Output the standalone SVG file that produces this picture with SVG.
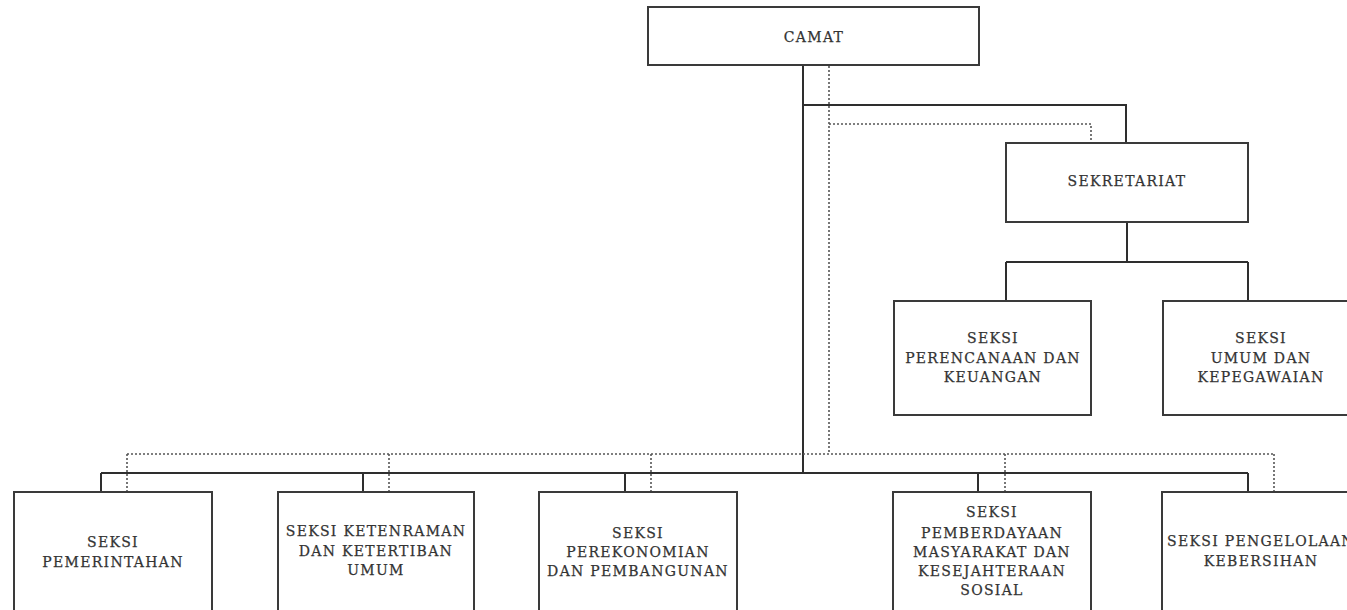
<svg xmlns="http://www.w3.org/2000/svg" width="1347" height="610" viewBox="0 0 1347 610">
<style>
.box{fill:#fff;stroke:#3a3a3a;stroke-width:2}
.ln{fill:none;stroke:#2e2e2e;stroke-width:2}
.dt{fill:none;stroke:#555;stroke-width:1.6;stroke-dasharray:2 2}
text{font-family:"DejaVu Serif","Liberation Serif",serif;font-size:14px;fill:#333;stroke:#333;stroke-width:0.25;text-anchor:middle;letter-spacing:1.3px}
</style>
<rect width="1347" height="610" fill="#fff"/>
<g id="connectors">
<path class="ln" d="M803 66V473M803 105H1126V143M1127 222V262M1006 262H1248M1006 262V301M1248 262V301M101 473H1248M101 473V492M363 473V492M625 473V492M978 473V492M1248 473V492"/>
<path class="dt" d="M829 66V454M829 124H1091V143M127 454H1274M127 454V492M389 454V492M651 454V492M1005 454V492M1274 454V492"/>
</g>
<g id="camat"><rect class="box" x="648" y="7" width="331" height="58"/><text x="814" y="42">CAMAT</text></g>
<g id="sekretariat"><rect class="box" x="1006" y="143" width="242" height="79"/><text x="1127" y="186">SEKRETARIAT</text></g>
<g id="perencanaan"><rect class="box" x="894" y="301" width="197" height="114"/>
<text x="993" y="343">SEKSI</text><text x="993" y="363">PERENCANAAN DAN</text><text x="993" y="382">KEUANGAN</text></g>
<g id="umum"><rect class="box" x="1163" y="301" width="200" height="114"/>
<text x="1261" y="343">SEKSI</text><text x="1261" y="363">UMUM DAN</text><text x="1261" y="382">KEPEGAWAIAN</text></g>
<g id="pemerintahan"><rect class="box" x="14" y="492" width="198" height="125"/>
<text x="113" y="547">SEKSI</text><text x="113" y="567">PEMERINTAHAN</text></g>
<g id="ketenraman"><rect class="box" x="278" y="492" width="196" height="125"/>
<text x="376" y="536">SEKSI KETENRAMAN</text><text x="376" y="556">DAN KETERTIBAN</text><text x="376" y="575">UMUM</text></g>
<g id="perekonomian"><rect class="box" x="539" y="492" width="198" height="125"/>
<text x="638" y="538">SEKSI</text><text x="638" y="557">PEREKONOMIAN</text><text x="638" y="576">DAN PEMBANGUNAN</text></g>
<g id="pemberdayaan"><rect class="box" x="893" y="492" width="198" height="125"/>
<text x="992" y="517">SEKSI</text><text x="992" y="538">PEMBERDAYAAN</text><text x="992" y="557">MASYARAKAT DAN</text><text x="992" y="576">KESEJAHTERAAN</text><text x="992" y="595">SOSIAL</text></g>
<g id="kebersihan"><rect class="box" x="1162" y="492" width="200" height="125"/>
<text x="1261" y="546">SEKSI PENGELOLAAN</text><text x="1261" y="566">KEBERSIHAN</text></g>
</svg>
